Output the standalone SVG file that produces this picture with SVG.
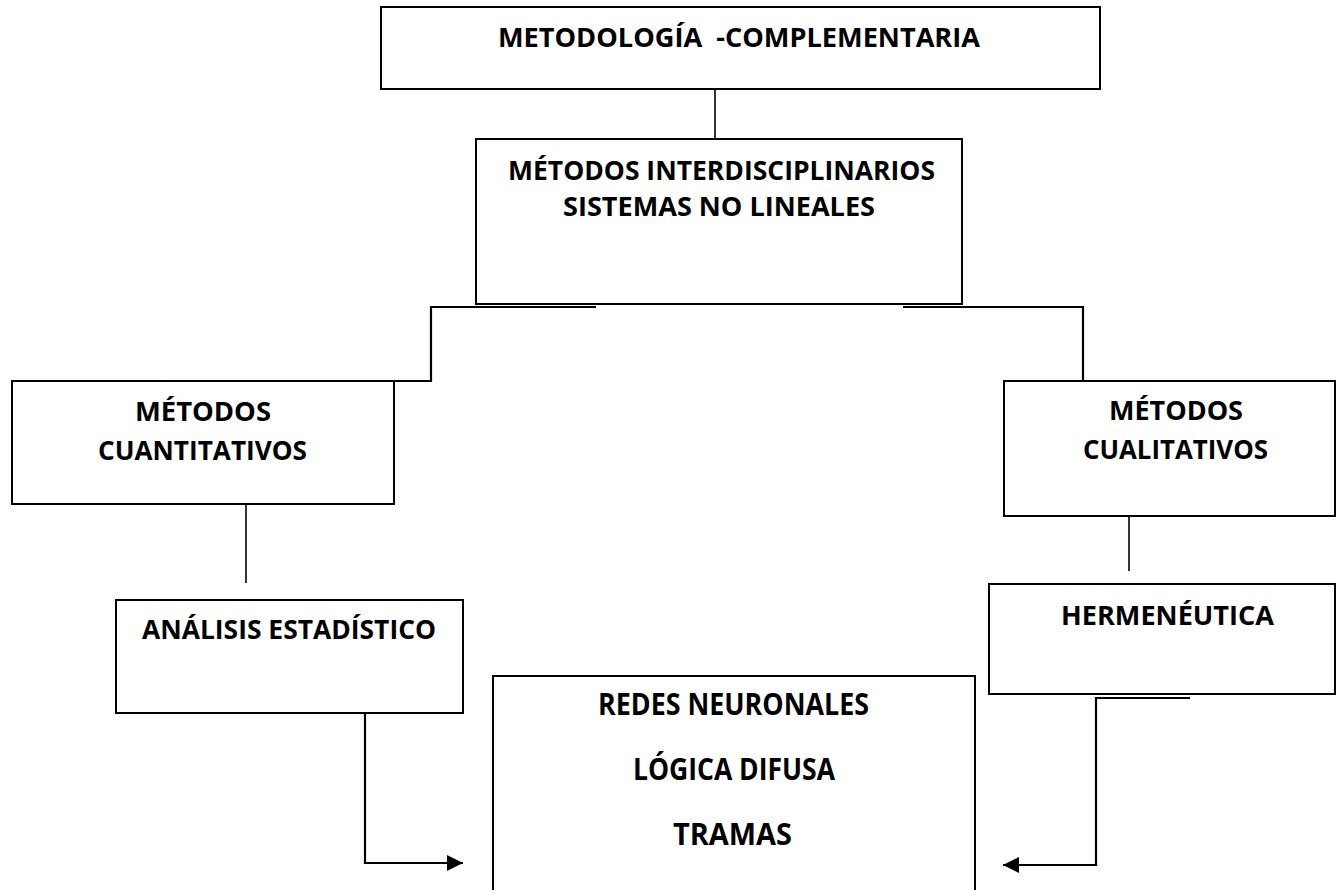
<svg xmlns="http://www.w3.org/2000/svg" width="1336" height="890" viewBox="0 0 1336 890">
<style>
.box{fill:#fff;stroke:#000;stroke-width:2}
.t{font-family:"Open Sans","Liberation Sans",sans-serif;font-weight:bold;font-size:27px;fill:#000;text-anchor:middle}
.big{font-size:30px}
.con{fill:none;stroke:#000;stroke-width:2.2}
.ln{fill:none;stroke:#000;stroke-width:1.6}
</style>
<defs>
<marker id="arr" markerUnits="userSpaceOnUse" markerWidth="18" markerHeight="16" refX="16" refY="8" orient="auto">
<path d="M0,0 L16,8 L0,16 Z" fill="#000"/>
</marker>
</defs>
<rect width="1336" height="890" fill="#fff"/>
<g id="n-metodologia">
<rect class="box" x="381" y="7" width="719" height="82"/>
<text class="t" x="739" y="47" xml:space="preserve" textLength="482" lengthAdjust="spacingAndGlyphs">METODOLOGÍA  -COMPLEMENTARIA</text>
</g>
<g id="n-interdisciplinarios">
<rect class="box" x="476" y="139" width="486" height="165"/>
<text class="t" x="721.5" y="180" textLength="427" lengthAdjust="spacingAndGlyphs">MÉTODOS INTERDISCIPLINARIOS</text>
<text class="t" x="719" y="216" textLength="312" lengthAdjust="spacingAndGlyphs">SISTEMAS NO LINEALES</text>
</g>
<g id="n-cuantitativos">
<rect class="box" x="12" y="381" width="382" height="123"/>
<text class="t" x="203" y="421" textLength="136" lengthAdjust="spacingAndGlyphs">MÉTODOS</text>
<text class="t" x="202.5" y="460" textLength="209" lengthAdjust="spacingAndGlyphs">CUANTITATIVOS</text>
</g>
<g id="n-cualitativos">
<rect class="box" x="1004" y="381" width="331" height="135"/>
<text class="t" x="1176" y="420" textLength="134" lengthAdjust="spacingAndGlyphs">MÉTODOS</text>
<text class="t" x="1175.5" y="459" textLength="185" lengthAdjust="spacingAndGlyphs">CUALITATIVOS</text>
</g>
<g id="n-analisis">
<rect class="box" x="116" y="600" width="347" height="113"/>
<text class="t" x="289" y="639" textLength="294" lengthAdjust="spacingAndGlyphs">ANÁLISIS ESTADÍSTICO</text>
</g>
<g id="n-hermeneutica">
<rect class="box" x="989" y="584" width="346" height="110"/>
<text class="t" x="1167.5" y="625" textLength="213" lengthAdjust="spacingAndGlyphs">HERMENÉUTICA</text>
</g>
<g id="n-redes">
<rect class="box" x="493" y="676" width="482" height="230"/>
<text class="t big" x="733.5" y="715" textLength="271" lengthAdjust="spacingAndGlyphs">REDES NEURONALES</text>
<text class="t big" x="734" y="780" textLength="202" lengthAdjust="spacingAndGlyphs">LÓGICA DIFUSA</text>
<text class="t big" x="732.5" y="845" textLength="119" lengthAdjust="spacingAndGlyphs">TRAMAS</text>
</g>
<g id="connectors">
<line class="ln" x1="715" y1="89" x2="715" y2="139"/>
<polyline class="con" points="596,307 431,307 431,381 375,381"/>
<polyline class="con" points="903,307 1083,307 1083,381 1262,381"/>
<line class="ln" x1="246" y1="504" x2="246" y2="583"/>
<line class="ln" x1="1129" y1="516" x2="1129" y2="571"/>
<polyline class="con" points="268,713 365,713 365,863 463,863" marker-end="url(#arr)"/>
<polyline class="con" points="1190,698 1096,698 1096,865 1003,865" marker-end="url(#arr)"/>
</g>
</svg>
